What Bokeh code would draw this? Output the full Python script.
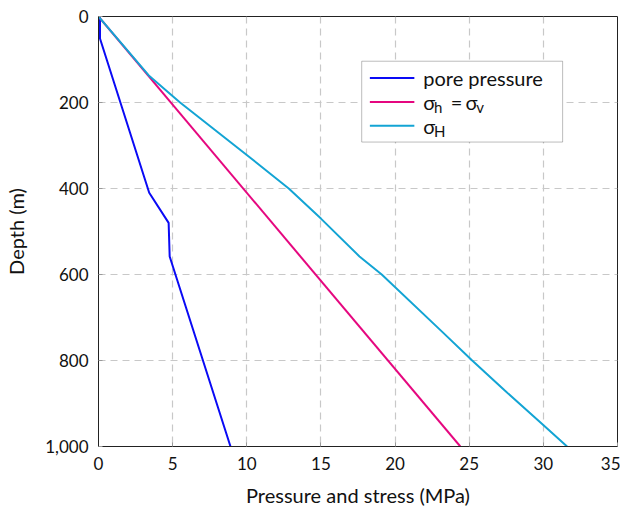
from bokeh.plotting import figure
from bokeh.models import Range1d, NumeralTickFormatter, FixedTicker, BoxAnnotation, Label
from bokeh.embed import file_html
from bokeh.resources import INLINE

# ---- data (MPa vs depth m) ----
pore_p = [0.1, 0.1, 3.42, 4.73, 4.80, 8.9]
pore_d = [0, 51, 410, 480, 558, 1000]

sv_p = [0.0, 24.4]
sv_d = [0, 1000]

sH_p = [0.0, 3.39, 5.5, 10.0, 12.83, 15.0, 17.6, 19.1, 23.2, 25.2, 27.4, 29.9, 31.6]
sH_d = [0, 137, 200, 322, 400, 470, 558, 600, 734, 800, 870, 947, 1000]

x_ticks = [0, 5, 10, 15, 20, 25, 30, 35]
y_ticks = [0, 200, 400, 600, 800, 1000]

C_PORE = "#0a0af5"
C_SV = "#e5077f"
C_SH = "#13a4d4"
FONT = "Lato"

p = figure(width=620, height=499, output_backend="svg", toolbar_location=None,
           x_range=Range1d(0, 35), y_range=Range1d(1000, 0),
           frame_width=519, frame_height=430,
           min_border_left=98, min_border_right=3, min_border_top=16, min_border_bottom=53)

p.outline_line_color = "#222222"
p.outline_line_width = 1

for ax in (p.xaxis[0], p.yaxis[0]):
    ax.major_tick_in = 4
    ax.major_tick_out = 0
    ax.minor_tick_in = 0
    ax.minor_tick_out = 0
    ax.major_tick_line_color = "#999999"
    ax.axis_line_color = "#222222"
    ax.major_label_text_font = FONT
    ax.major_label_text_font_size = "17px"
    ax.major_label_text_color = "#111111"
    ax.axis_label_text_font = FONT
    ax.axis_label_text_font_size = "20px"
    ax.axis_label_text_font_style = "normal"
    ax.axis_label_text_color = "#111111"

p.xaxis.ticker = FixedTicker(ticks=x_ticks)
p.yaxis.ticker = FixedTicker(ticks=y_ticks)
p.yaxis.formatter = NumeralTickFormatter(format="0,0")
p.xaxis.axis_label = "Pressure and stress (MPa)"
p.yaxis.axis_label = "Depth (m)"
p.xaxis.major_label_standoff = 10
p.yaxis.major_label_standoff = 10
p.xaxis.axis_label_standoff = 10
p.yaxis.axis_label_standoff = 14

for g in (p.xgrid[0], p.ygrid[0]):
    g.grid_line_color = "#c8c8c8"
    g.grid_line_dash = "7 5"
    g.grid_line_width = 1.2

p.line(pore_p, pore_d, line_color=C_PORE, line_width=2)
p.line(sv_p, sv_d, line_color=C_SV, line_width=2)
p.line(sH_p, sH_d, line_color=C_SH, line_width=2)

# ---- custom legend (data units for placement) ----
lx0, lx1 = 17.75, 31.3
ly0, ly1 = 104, 292
p.add_layout(BoxAnnotation(left=lx0, right=lx1, top=ly0, bottom=ly1,
                           fill_color="white", fill_alpha=1.0,
                           line_color="#222222", line_width=1))
rows = [143, 199, 254]
cols = [C_PORE, C_SV, C_SH]
for r, c in zip(rows, cols):
    seg = p.segment(x0=[18.3], y0=[r], x1=[21.3], y1=[r], line_color=c, line_width=2)
    seg.level = "overlay"

def lab(x, y, t, size="20px", dy=0):
    p.add_layout(Label(x=x, y=y, text=t, text_font=FONT, text_font_size=size,
                       text_baseline="middle", text_color="#111111", y_offset=dy))

lab(21.9, rows[0], "pore pressure")
lab(21.9, rows[1], "σ")
lab(22.62, rows[1], "h", size="15px", dy=-5)
lab(23.75, rows[1], "=")
lab(24.75, rows[1], "σ")
lab(25.48, rows[1], "v", size="15px", dy=-5)
lab(21.9, rows[2], "σ")
lab(22.62, rows[2], "H", size="15px", dy=-5)

open("out.html", "w").write(file_html(p, INLINE))
